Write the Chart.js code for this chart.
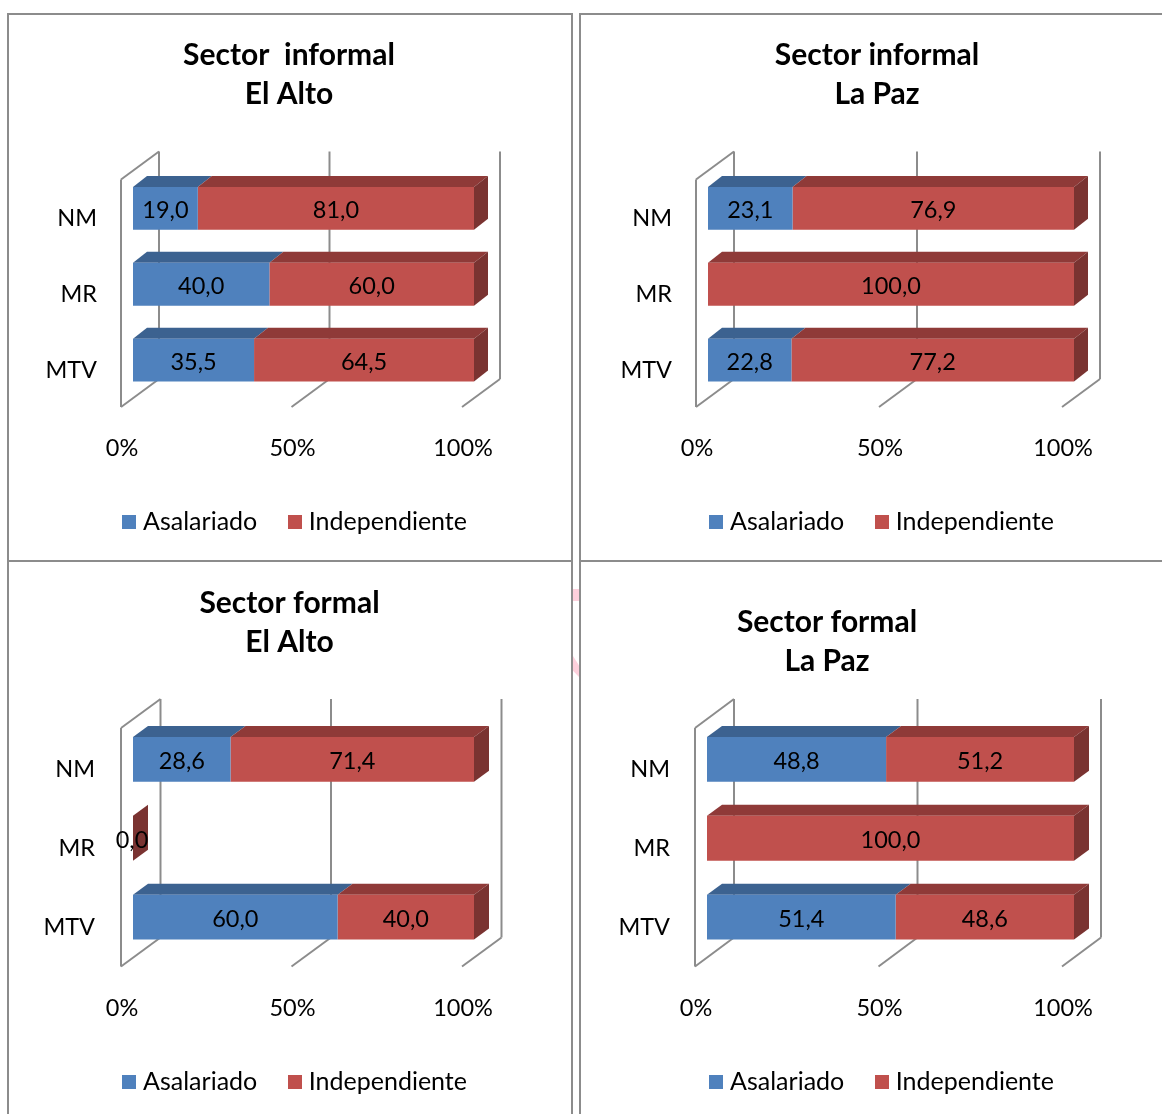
<!DOCTYPE html>
<html>
<head>
<meta charset="utf-8">
<script src="https://cdn.jsdelivr.net/npm/chart.js@4"></script>
<style>
  html, body { margin: 0; padding: 0; background: #fff; overflow: hidden; width: 1162px; height: 1114px; }
  canvas { position: absolute; }
  .rule { position: absolute; background: #8c8c8c; }
  .pink { position: absolute; background: #fdd0dc; }
</style>
</head>
<body>
<div class="rule" style="left:7px;top:13px;width:2px;height:1101px"></div>
<div class="rule" style="left:571px;top:13px;width:2px;height:1101px"></div>
<div class="rule" style="left:579px;top:13px;width:2px;height:1101px"></div>
<div class="rule" style="left:7px;top:13px;width:566px;height:2px"></div>
<div class="rule" style="left:579px;top:13px;width:583px;height:2px"></div>
<div class="rule" style="left:7px;top:560px;width:566px;height:2px"></div>
<div class="rule" style="left:579px;top:560px;width:583px;height:2px"></div>
<div class="pink" style="left:573px;top:589px;width:6px;height:12px"></div>
<div class="pink" style="left:573px;top:656px;width:6px;height:21px;clip-path:polygon(0 0,100% 45%,100% 100%,0 70%)"></div>

<canvas id="c1"></canvas>
<canvas id="c2"></canvas>
<canvas id="c3"></canvas>
<canvas id="c4"></canvas>

<script>
  const categories = ["NM", "MR", "MTV"];
  const valueTicks = [0, 50, 100];
  const seriesNames = ["Asalariado", "Independiente"];

  // null = no bar and no label in the original
  const asalariadoInfAlto = [19.0, 40.0, 35.5];
  const independienteInfAlto = [81.0, 60.0, 64.5];
  const asalariadoInfPaz = [23.1, null, 22.8];
  const independienteInfPaz = [76.9, 100.0, 77.2];
  const asalariadoForAlto = [28.6, null, 60.0];
  const independienteForAlto = [71.4, 0.0, 40.0];
  const asalariadoForPaz = [48.8, null, 51.4];
  const independienteForPaz = [51.2, 100.0, 48.6];

  const FONT = "Lato, Carlito, sans-serif";
  const LABEL_SIZE = 23.5;
  const LEGEND_SIZE = 25;
  const GREY = "#8c8c8c";
  const FRONT = ["#4f81bd", "#c0504d"];
  const TOP = ["#3c6290", "#8f3a38"];
  const SIDE = "#7a3331";

  // Layout of each panel, in page pixels
  const panels = [
    { id: "c1", title: ["Sector  informal", "El Alto"], a: asalariadoInfAlto, b: independienteInfAlto,
      left: 9, top: 15, width: 571, barLeft: 133, barRight: 474, areaTop: 170.5, areaBottom: 398.5,
      titleX: 289, titleY: 55, legendX: 297.25, legendY: 522, tickY: 449, barH: 43,
      wall: 12, wallTop: 9, wallBottom: 9, backDx: 38, backDy: 28, yLabelPad: 36, yLabelOff: 10, depthX: 14, depthY: 11 },
    { id: "c2", title: ["Sector informal", "La Paz"], a: asalariadoInfPaz, b: independienteInfPaz,
      left: 581, top: 15, width: 581, barLeft: 708, barRight: 1074, areaTop: 170.5, areaBottom: 398.5,
      titleX: 877, titleY: 55, legendX: 884.25, legendY: 522, tickY: 449, barH: 43,
      wall: 12, wallTop: 9, wallBottom: 9, backDx: 38, backDy: 28, yLabelPad: 36, yLabelOff: 10, depthX: 14, depthY: 11 },
    { id: "c3", title: ["Sector formal", "El Alto"], a: asalariadoForAlto, b: independienteForAlto,
      left: 9, top: 562, width: 571, barLeft: 133, barRight: 474, areaTop: 720, areaBottom: 957,
      titleX: 289.5, titleY: 603, legendX: 297.25, legendY: 1082, tickY: 1009, barH: 45,
      wall: 12, wallTop: 8, wallBottom: 10, backDx: 39.5, backDy: 29, yLabelPad: 38, yLabelOff: 10, depthX: 15, depthY: 11 },
    { id: "c4", title: ["Sector formal", "La Paz"], a: asalariadoForPaz, b: independienteForPaz,
      left: 581, top: 562, width: 581, barLeft: 707, barRight: 1074, areaTop: 720, areaBottom: 957,
      titleX: 827, titleY: 622, legendX: 884.25, legendY: 1082, tickY: 1009, barH: 45,
      wall: 12, wallTop: 8, wallBottom: 10, backDx: 39, backDy: 29, yLabelPad: 37, yLabelOff: 10, depthX: 15, depthY: 11 },
  ];

  const TITLE_SIZE = 30;
  const TITLE_LINE = 39;
  const LEGEND_PAD = 36;

  // Square legend swatch as an image, so the gap to the text can be tighter than the default
  const swatch = (color) => {
    const c = document.createElement("canvas");
    c.width = 14;
    c.height = 14;
    const g = c.getContext("2d");
    g.fillStyle = color;
    g.fillRect(0, 0, 14, 14);
    return c;
  };
  const swatches = FRONT.map(swatch);

  const line = (ctx, x1, y1, x2, y2) => {
    ctx.beginPath();
    ctx.moveTo(x1, y1);
    ctx.lineTo(x2, y2);
    ctx.stroke();
  };

  const poly = (ctx, color, pts) => {
    ctx.fillStyle = color;
    ctx.beginPath();
    pts.forEach((p, i) => (i ? ctx.lineTo(p[0], p[1]) : ctx.moveTo(p[0], p[1])));
    ctx.closePath();
    ctx.fill();
  };

  // Fake 3D look of the Excel chart: walls, floor lines, top and side faces, value labels
  const bars3d = {
    id: "bars3d",
    afterLayout(chart) {
      const p = chart.options.plugins.bars3d;
      const move = (box, x) => {
        const dx = x - p.left - (box.left + box.right) / 2;
        box.left += dx;
        box.right += dx;
      };
      move(chart.titleBlock, p.titleX);
      move(chart.legend, p.legendX);
    },
    beforeDatasetsDraw(chart) {
      const p = chart.options.plugins.bars3d;
      const { ctx, scales, chartArea } = chart;
      const frontTop = chartArea.top + p.wallTop;
      const frontBottom = chartArea.bottom + p.wallBottom;
      ctx.save();
      ctx.strokeStyle = GREY;
      ctx.lineWidth = 2;
      valueTicks.forEach((v, i) => {
        const x = scales.x.getPixelForValue(v) - p.wall;
        line(ctx, x + p.backDx, frontTop - p.backDy, x + p.backDx, frontBottom - p.backDy);
        line(ctx, x, frontBottom, x + p.backDx, frontBottom - p.backDy);
        if (i === 0) {
          line(ctx, x, frontTop, x, frontBottom);
          line(ctx, x, frontTop, x + p.backDx, frontTop - p.backDy);
        }
      });
      ctx.restore();

      ctx.save();
      const dx = p.depthX;
      const dy = p.depthY;
      chart.data.datasets.forEach((ds, i) => {
        chart.getDatasetMeta(i).data.forEach((el, j) => {
          if (ds.data[j] === null) return;
          const top = el.y - el.height / 2;
          const bottom = el.y + el.height / 2;
          const x0 = el.base;
          const x1 = el.x;
          if (x1 > x0) {
            poly(ctx, TOP[i], [[x0, top], [x0 + dx, top - dy], [x1 + dx, top - dy], [x1, top]]);
          }
          // side face only at the end of the stack
          if (i === chart.data.datasets.length - 1) {
            poly(ctx, SIDE, [[x1, top], [x1 + dx, top - dy], [x1 + dx, bottom - dy], [x1, bottom]]);
          }
        });
      });
      ctx.restore();
    },
    afterDatasetsDraw(chart) {
      const { ctx } = chart;
      ctx.save();
      ctx.fillStyle = "#000";
      ctx.font = LABEL_SIZE + "px " + FONT;
      ctx.textAlign = "center";
      ctx.textBaseline = "middle";
      chart.data.datasets.forEach((ds, i) => {
        chart.getDatasetMeta(i).data.forEach((el, j) => {
          if (ds.data[j] === null) return;
          const text = ds.data[j].toFixed(1).replace(".", ",");
          ctx.fillText(text, (el.base + el.x) / 2 - (ds.data[j] === 0 ? 1 : 0), el.y + 2);
        });
      });
      ctx.restore();
    },
  };

  const createPanel = (p) => {
    const canvas = document.getElementById(p.id);
    const canvasRight = Math.max(p.left + p.width, p.barRight + 30);
    // Chart.js sizes a bottom legend as item height + padding + 10
    const legendTop = p.legendY - LEGEND_SIZE / 2 - LEGEND_PAD;
    const height = legendTop + LEGEND_SIZE + LEGEND_PAD + 10 - p.top;
    canvas.style.left = p.left + "px";
    canvas.style.top = p.top + "px";
    canvas.width = canvasRight - p.left;
    canvas.height = height;
    canvas.style.width = canvas.width + "px";
    canvas.style.height = canvas.height + "px";

    const titleTop = p.titleY - TITLE_LINE / 2 - p.top;
    const titleBottom = p.areaTop - p.top - titleTop - TITLE_LINE * 2;

    return new Chart(canvas.getContext("2d"), {
      type: "bar",
      data: {
        labels: categories,
        datasets: [
          { label: seriesNames[0], data: p.a, backgroundColor: FRONT[0], stack: "s",
            barPercentage: p.barH / ((p.areaBottom - p.areaTop) / 3), categoryPercentage: 1 },
          { label: seriesNames[1], data: p.b, backgroundColor: FRONT[1], stack: "s",
            barPercentage: p.barH / ((p.areaBottom - p.areaTop) / 3), categoryPercentage: 1 },
        ],
      },
      options: {
        indexAxis: "y",
        responsive: false,
        animation: false,
        layout: { padding: { left: 0, top: 0, bottom: 0, right: canvasRight - p.barRight } },
        scales: {
          x: {
            stacked: true,
            min: 0,
            max: 100,
            grid: { display: false, drawTicks: false },
            border: { display: false },
            ticks: {
              stepSize: 50,
              autoSkip: false,
              maxRotation: 0,
              minRotation: 0,
              padding: p.tickY - p.areaBottom - 14,
              labelOffset: -p.wall + 1,
              color: "#000",
              font: { family: FONT, size: LABEL_SIZE },
              callback: (v) => v + "%",
            },
            afterFit(scale) {
              scale.height = legendTop - p.areaBottom;
              scale.paddingLeft = 0;
              scale.paddingRight = 0;
            },
          },
          y: {
            stacked: true,
            grid: { display: false, drawTicks: false },
            border: { display: false },
            ticks: {
              padding: p.yLabelPad,
              labelOffset: p.yLabelOff,
              color: "#000",
              font: { family: FONT, size: LABEL_SIZE },
            },
            afterFit(scale) {
              scale.width = p.barLeft - p.left;
              scale.paddingTop = 0;
              scale.paddingBottom = 0;
            },
          },
        },
        plugins: {
          tooltip: { enabled: false },
          title: {
            display: true,
            text: p.title,
            color: "#000",
            font: { family: FONT, size: TITLE_SIZE, weight: "bold", lineHeight: TITLE_LINE + "px" },
            padding: { top: titleTop, bottom: titleBottom },
          },
          legend: {
            display: true,
            position: "bottom",
            labels: {
              color: "#000",
              font: { family: FONT, size: LEGEND_SIZE },
              padding: LEGEND_PAD,
              usePointStyle: true,
              pointStyleWidth: 3,
              boxHeight: 14,
              generateLabels: (chart) =>
                Chart.defaults.plugins.legend.labels.generateLabels(chart).map((item, i) => ({
                  ...item,
                  pointStyle: swatches[i],
                })),
            },
          },
          bars3d: p,
        },
      },
      plugins: [bars3d],
    });
  };

  document.fonts.load("23px Lato").then(() => {
    panels.forEach(createPanel);
  });
</script>
</body>
</html>
